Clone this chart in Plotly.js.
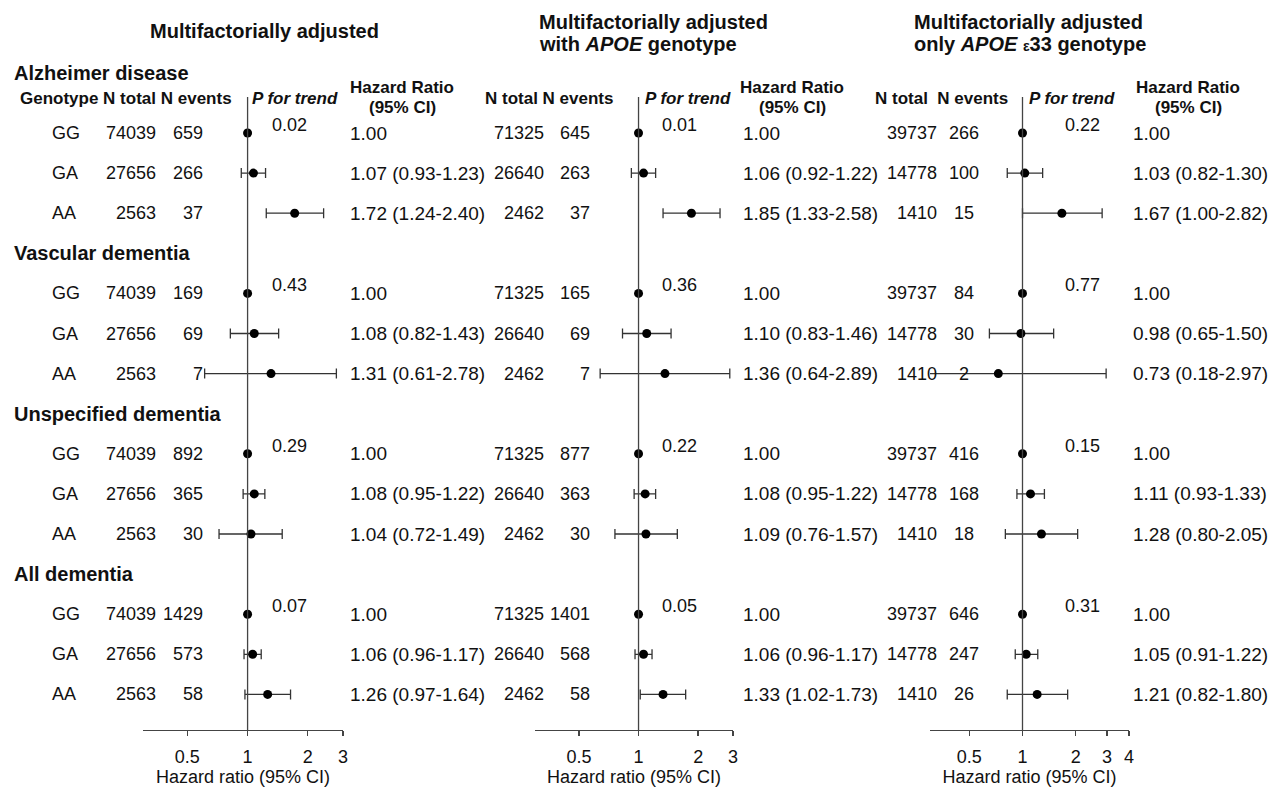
<!DOCTYPE html>
<html>
<head>
<meta charset="utf-8">
<script src="https://cdn.plot.ly/plotly-3.0.1.min.js"></script>
<style>html,body{margin:0;padding:0;background:#fff}#chart{width:1268px;height:787px}</style>
</head>
<body>
<div id="chart"></div>
<script>
// ---------- data ----------
const genotypes = ['GG', 'GA', 'AA'];
const diseases = ['Alzheimer disease', 'Vascular dementia', 'Unspecified dementia', 'All dementia'];

// Panel 1: Multifactorially adjusted
const nTotal1 = [74039, 27656, 2563];
const nEvents1 = [[659, 266, 37], [169, 69, 7], [892, 365, 30], [1429, 573, 58]];
const hr1 = [[1.00, 1.07, 1.72], [1.00, 1.08, 1.31], [1.00, 1.08, 1.04], [1.00, 1.06, 1.26]];
const lo1 = [[null, 0.93, 1.24], [null, 0.82, 0.61], [null, 0.95, 0.72], [null, 0.96, 0.97]];
const hi1 = [[null, 1.23, 2.40], [null, 1.43, 2.78], [null, 1.22, 1.49], [null, 1.17, 1.64]];
const pTrend1 = [0.02, 0.43, 0.29, 0.07];

// Panel 2: Multifactorially adjusted with APOE genotype
const nTotal2 = [71325, 26640, 2462];
const nEvents2 = [[645, 263, 37], [165, 69, 7], [877, 363, 30], [1401, 568, 58]];
const hr2 = [[1.00, 1.06, 1.85], [1.00, 1.10, 1.36], [1.00, 1.08, 1.09], [1.00, 1.06, 1.33]];
const lo2 = [[null, 0.92, 1.33], [null, 0.83, 0.64], [null, 0.95, 0.76], [null, 0.96, 1.02]];
const hi2 = [[null, 1.22, 2.58], [null, 1.46, 2.89], [null, 1.22, 1.57], [null, 1.17, 1.73]];
const pTrend2 = [0.01, 0.36, 0.22, 0.05];

// Panel 3: Multifactorially adjusted only APOE e33 genotype
const nTotal3 = [39737, 14778, 1410];
const nEvents3 = [[266, 100, 15], [84, 30, 2], [416, 168, 18], [646, 247, 26]];
const hr3 = [[1.00, 1.03, 1.67], [1.00, 0.98, 0.73], [1.00, 1.11, 1.28], [1.00, 1.05, 1.21]];
const lo3 = [[null, 0.82, 1.00], [null, 0.65, 0.18], [null, 0.93, 0.80], [null, 0.91, 0.82]];
const hi3 = [[null, 1.30, 2.82], [null, 1.50, 2.97], [null, 1.33, 2.05], [null, 1.22, 1.80]];
const pTrend3 = [0.22, 0.77, 0.15, 0.31];

const tickVals12 = [0.5, 1, 2, 3];
const tickVals3 = [0.5, 1, 2, 3, 4];

const panelTitles = [
  ['Multifactorially adjusted'],
  ['Multifactorially adjusted', 'with <i>APOE</i> genotype'],
  ['Multifactorially adjusted', 'only <i>APOE</i> <span style="font-size:14px">ε</span>33 genotype']
];

// ---------- layout helpers ----------
const W = 1268, H = 787;
const px = x => x / W;
const py = y => 1 - y / H;
const FONT = 'Liberation Sans, Arial, Helvetica, sans-serif';
const TXT = '#111';

const panels = [
  {nTotal: nTotal1, nEv: nEvents1, hr: hr1, lo: lo1, hi: hi1, p: pTrend1, ticks: tickVals12, xmax: 3,
   dom: [143, 343], nTotR: 158, nEvX: 205, nEvAnchor: 'right', hrL: 348, pC: 289, hrHdr: 402, ptHdr: 295,
   nHdrL: 18, nHdr: 'Genotype N total N events'},
  {nTotal: nTotal2, nEv: nEvents2, hr: hr2, lo: lo2, hi: hi2, p: pTrend2, ticks: tickVals12, xmax: 3,
   dom: [535, 733], nTotR: 546, nEvX: 592, nEvAnchor: 'right', hrL: 741, pC: 679, hrHdr: 792, ptHdr: 688,
   nHdrL: 483, nHdr: 'N total N events'},
  {nTotal: nTotal3, nEv: nEvents3, hr: hr3, lo: lo3, hi: hi3, p: pTrend3, ticks: tickVals3, xmax: 4,
   dom: [930, 1129], nTotR: 939, nEvX: 964, nEvAnchor: 'center', hrL: 1131, pC: 1082, hrHdr: 1188, ptHdr: 1072,
   nHdrL: 873, nHdr: 'N total  N events'}
];

const rowPx0 = 133, rowStep = 40.1;
const yTop = 97, yBot = 730;
const yRange = [(yBot - rowPx0) / rowStep, (yTop - rowPx0) / rowStep];

const traces = [];
const annotations = [];
const shapes = [];
const layout = {
  width: W, height: H,
  margin: {l: 0, r: 0, t: 0, b: 0},
  paper_bgcolor: '#fff', plot_bgcolor: 'rgba(0,0,0,0)',
  showlegend: false,
  font: {family: FONT, color: TXT, size: 18},
  yaxis: {domain: [py(yBot), py(yTop)], range: yRange, visible: false, fixedrange: true},
  annotations: annotations, shapes: shapes
};

function ann(o) {
  annotations.push(Object.assign({showarrow: false, font: {family: FONT, size: 18, color: TXT}}, o));
}

panels.forEach((P, k) => {
  const xa = 'x' + (k === 0 ? '' : (k + 1));
  const axKey = 'xaxis' + (k === 0 ? '' : (k + 1));
  layout[axKey] = {
    type: 'log', domain: [px(P.dom[0]), px(P.dom[1])],
    range: [Math.log10(0.3), Math.log10(P.xmax)],
    anchor: 'y', showgrid: false, zeroline: false,
    showline: true, linecolor: '#444', linewidth: 1.3,
    ticks: 'outside', ticklen: 5, tickwidth: 1.3, tickcolor: '#444',
    tickvals: P.ticks, ticktext: P.ticks.map(String),
    tickfont: {family: FONT, size: 18, color: TXT},
    ticklabelstandoff: 5,
    title: {text: 'Hazard ratio (95% CI)', font: {family: FONT, size: 18, color: TXT}, standoff: 0},
    fixedrange: true
  };

  // reference line at HR = 1
  shapes.push({type: 'line', xref: xa, yref: 'paper', x0: 1, x1: 1, y0: py(yBot), y1: py(yTop),
    line: {color: '#444', width: 1.3}});

  const refX = [], refY = [];
  const ptX = [], ptY = [], ePlus = [], eMinus = [];
  diseases.forEach((d, di) => {
    genotypes.forEach((g, gi) => {
      const row = di * 4 + gi;
      const v = P.hr[di][gi];
      if (P.lo[di][gi] === null) { refX.push(v); refY.push(row); }
      else {
        ptX.push(v); ptY.push(row);
        ePlus.push(P.hi[di][gi] - v); eMinus.push(v - P.lo[di][gi]);
      }
      // table cells
      if (k === 0) ann({xref: 'paper', yref: 'y', x: px(50), y: row, xanchor: 'left', text: g});
      ann({xref: 'paper', yref: 'y', x: px(P.nTotR), y: row, xanchor: 'right', text: String(P.nTotal[gi])});
      ann({xref: 'paper', yref: 'y', x: px(P.nEvX), y: row, xanchor: P.nEvAnchor, text: String(P.nEv[di][gi])});
      const hrTxt = P.lo[di][gi] === null ? v.toFixed(2)
        : v.toFixed(2) + ' (' + P.lo[di][gi].toFixed(2) + '-' + P.hi[di][gi].toFixed(2) + ')';
      ann({xref: 'paper', yref: 'y', x: px(P.hrL), y: row, xanchor: 'left', text: hrTxt,
        font: {family: FONT, size: 19, color: TXT}});
    });
    ann({xref: 'paper', yref: 'y', x: px(P.pC), y: di * 4 - 0.2, xanchor: 'center', text: P.p[di].toFixed(2)});
  });

  traces.push({type: 'scatter', mode: 'markers', x: refX, y: refY, xaxis: xa, yaxis: 'y',
    marker: {color: '#000', size: 9}, hoverinfo: 'skip'});
  traces.push({type: 'scatter', mode: 'markers', x: ptX, y: ptY, xaxis: xa, yaxis: 'y',
    marker: {color: '#000', size: 9}, hoverinfo: 'skip',
    error_x: {type: 'data', symmetric: false, array: ePlus, arrayminus: eMinus,
      color: '#333', thickness: 1.3, width: 5}});

  // column headers
  ann({xref: 'paper', yref: 'paper', x: px(P.nHdrL), y: py(98), xanchor: 'left', yanchor: 'middle',
    text: '<b>' + P.nHdr + '</b>', font: {family: FONT, size: 17, color: TXT}});
  ann({xref: 'paper', yref: 'paper', x: px(P.ptHdr), y: py(98), xanchor: 'center', yanchor: 'middle',
    text: '<b><i>P for trend</i></b>', font: {family: FONT, size: 17, color: TXT}});
  ann({xref: 'paper', yref: 'paper', x: px(P.hrHdr), y: py(88), xanchor: 'center', yanchor: 'middle',
    text: '<b>Hazard Ratio</b>', font: {family: FONT, size: 17, color: TXT}});
  ann({xref: 'paper', yref: 'paper', x: px(P.hrHdr), y: py(108), xanchor: 'center', yanchor: 'middle',
    text: '<b>(95% CI)</b>', font: {family: FONT, size: 17, color: TXT}});
});

// panel titles
ann({xref: 'paper', yref: 'paper', x: px(264), y: py(31), xanchor: 'center', yanchor: 'middle',
  text: '<b>' + panelTitles[0][0] + '</b>', font: {family: FONT, size: 20, color: TXT}});
[[537, 1], [912, 2]].forEach(([x0, k]) => {
  ann({xref: 'paper', yref: 'paper', x: px(x0), y: py(22), xanchor: 'left', yanchor: 'middle',
    text: '<b>' + panelTitles[k][0] + '</b>', font: {family: FONT, size: 20, color: TXT}});
  ann({xref: 'paper', yref: 'paper', x: px(x0), y: py(44), xanchor: 'left', yanchor: 'middle',
    text: '<b>' + panelTitles[k][1] + '</b>', font: {family: FONT, size: 20, color: TXT}});
});

// disease headers
diseases.forEach((d, di) => {
  if (di === 0) {
    ann({xref: 'paper', yref: 'paper', x: px(12), y: py(73), xanchor: 'left', yanchor: 'middle',
      text: '<b>' + d + '</b>', font: {family: FONT, size: 20, color: TXT}});
  } else {
    ann({xref: 'paper', yref: 'y', x: px(12), y: di * 4 - 1, xanchor: 'left', yanchor: 'middle',
      text: '<b>' + d + '</b>', font: {family: FONT, size: 20, color: TXT}});
  }
});

Plotly.newPlot('chart', traces, layout, {staticPlot: true, displayModeBar: false});
</script>
</body>
</html>
